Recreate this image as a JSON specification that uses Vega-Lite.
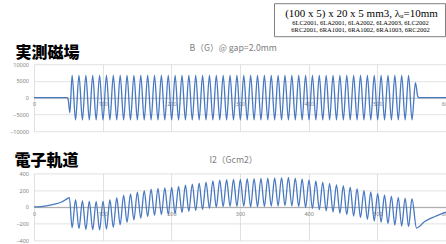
{
  "$schema": "https://vega.github.io/schema/vega-lite/v6.json",
  "padding": {"left": 9, "top": 2.2, "right": 0, "bottom": 0},
  "background": "white",
  "config": {
    "view": {"stroke": null},
    "axis": {"gridColor": "#d9d9d9", "gridWidth": 0.8, "labelFont": "Noto Sans", "labelColor": "#7f7f7f", "labelFontSize": 5.5, "ticks": false}
  },
  "datasets": {
    "field": [
      {"x":0,"b":0},{"x":48.5,"b":0},{"x":50,"b":-800},{"x":52.2,"b":-4500},
      {"x":55.5,"b":6650},{"x":60.5,"b":-6600},{"x":65.5,"b":6650},{"x":70.5,"b":-6600},{"x":75.5,"b":6650},{"x":80.5,"b":-6600},{"x":85.5,"b":6650},{"x":90.5,"b":-6600},{"x":95.5,"b":6650},{"x":100.5,"b":-6600},
      {"x":105.5,"b":6650},{"x":110.5,"b":-6600},{"x":115.5,"b":6650},{"x":120.5,"b":-6600},{"x":125.5,"b":6650},{"x":130.5,"b":-6600},{"x":135.5,"b":6650},{"x":140.5,"b":-6600},{"x":145.5,"b":6650},{"x":150.5,"b":-6600},
      {"x":155.5,"b":6650},{"x":160.5,"b":-6600},{"x":165.5,"b":6650},{"x":170.5,"b":-6600},{"x":175.5,"b":6650},{"x":180.5,"b":-6600},{"x":185.5,"b":6650},{"x":190.5,"b":-6600},{"x":195.5,"b":6650},{"x":200.5,"b":-6600},
      {"x":205.5,"b":6650},{"x":210.5,"b":-6600},{"x":215.5,"b":6650},{"x":220.5,"b":-6600},{"x":225.5,"b":6650},{"x":230.5,"b":-6600},{"x":235.5,"b":6650},{"x":240.5,"b":-6600},{"x":245.5,"b":6650},{"x":250.5,"b":-6600},
      {"x":255.5,"b":6650},{"x":260.5,"b":-6600},{"x":265.5,"b":6650},{"x":270.5,"b":-6600},{"x":275.5,"b":6650},{"x":280.5,"b":-6600},{"x":285.5,"b":6650},{"x":290.5,"b":-6600},{"x":295.5,"b":6650},{"x":300.5,"b":-6600},
      {"x":305.5,"b":6650},{"x":310.5,"b":-6600},{"x":315.5,"b":6650},{"x":320.5,"b":-6600},{"x":325.5,"b":6650},{"x":330.5,"b":-6600},{"x":335.5,"b":6650},{"x":340.5,"b":-6600},{"x":345.5,"b":6650},{"x":350.5,"b":-6600},
      {"x":355.5,"b":6650},{"x":360.5,"b":-6600},{"x":365.5,"b":6650},{"x":370.5,"b":-6600},{"x":375.5,"b":6650},{"x":380.5,"b":-6600},{"x":385.5,"b":6650},{"x":390.5,"b":-6600},{"x":395.5,"b":6650},{"x":400.5,"b":-6600},
      {"x":405.5,"b":6650},{"x":410.5,"b":-6600},{"x":415.5,"b":6650},{"x":420.5,"b":-6600},{"x":425.5,"b":6650},{"x":430.5,"b":-6600},{"x":435.5,"b":6650},{"x":440.5,"b":-6600},{"x":445.5,"b":6650},{"x":450.5,"b":-6600},
      {"x":455.5,"b":6650},{"x":460.5,"b":-6600},{"x":465.5,"b":6650},{"x":470.5,"b":-6600},{"x":475.5,"b":6650},{"x":480.5,"b":-6600},{"x":485.5,"b":6650},{"x":490.5,"b":-6600},{"x":495.5,"b":6650},{"x":500.5,"b":-6600},
      {"x":505.5,"b":6650},{"x":510.5,"b":-6600},{"x":515.5,"b":6650},{"x":520.5,"b":-6600},{"x":525.5,"b":6650},{"x":530.5,"b":-6600},{"x":535.5,"b":6650},{"x":540.5,"b":-6600},{"x":545.5,"b":6650},{"x":550.5,"b":-6600},
      {"x":555.5,"b":4500},{"x":559,"b":300},{"x":561,"b":0},{"x":600,"b":0}
    ],
    "i2": [
      {"x":0,"v":0},{"x":10,"v":4},{"x":20,"v":14},{"x":30,"v":32},{"x":40,"v":58},{"x":47,"v":90},{"x":51.5,"v":111},
      {"x":55.5,"v":-250},{"x":60.5,"v":85},{"x":65.5,"v":-260},{"x":70.5,"v":75},{"x":75.5,"v":-270},{"x":80.5,"v":68},{"x":85.5,"v":-274},{"x":90.5,"v":65},{"x":95.5,"v":-275},{"x":100.5,"v":70},
      {"x":105.5,"v":-265},{"x":110.5,"v":85},{"x":115.5,"v":-245},{"x":120.5,"v":110},{"x":125.5,"v":-215},{"x":130.5,"v":140},{"x":135.5,"v":-185},{"x":140.5,"v":155},{"x":145.5,"v":-155},{"x":150.5,"v":175},
      {"x":155.5,"v":-135},{"x":160.5,"v":195},{"x":165.5,"v":-115},{"x":170.5,"v":212},{"x":175.5,"v":-102},{"x":180.5,"v":222},{"x":185.5,"v":-94},{"x":190.5,"v":228},{"x":195.5,"v":-90},{"x":200.5,"v":232},
      {"x":205.5,"v":-82},{"x":210.5,"v":245},{"x":215.5,"v":-68},{"x":220.5,"v":260},{"x":225.5,"v":-54},{"x":230.5,"v":272},{"x":235.5,"v":-43},{"x":240.5,"v":282},{"x":245.5,"v":-32},{"x":250.5,"v":295},
      {"x":255.5,"v":-18},{"x":260.5,"v":310},{"x":265.5,"v":-4},{"x":270.5,"v":320},{"x":275.5,"v":3},{"x":280.5,"v":325},{"x":285.5,"v":6},{"x":290.5,"v":327},{"x":295.5,"v":7},{"x":300.5,"v":328},
      {"x":305.5,"v":8},{"x":310.5,"v":337},{"x":315.5,"v":1},{"x":320.5,"v":338},{"x":325.5,"v":2},{"x":330.5,"v":339},{"x":335.5,"v":4},{"x":340.5,"v":342},{"x":345.5,"v":8},{"x":350.5,"v":346},
      {"x":355.5,"v":12},{"x":360.5,"v":350},{"x":365.5,"v":15},{"x":370.5,"v":351},{"x":375.5,"v":12},{"x":380.5,"v":344},{"x":385.5,"v":3},{"x":390.5,"v":333},{"x":395.5,"v":-8},{"x":400.5,"v":323},
      {"x":405.5,"v":-20},{"x":410.5,"v":309},{"x":415.5,"v":-34},{"x":420.5,"v":295},{"x":425.5,"v":-48},{"x":430.5,"v":281},{"x":435.5,"v":-62},{"x":440.5,"v":267},{"x":445.5,"v":-76},{"x":450.5,"v":253},
      {"x":455.5,"v":-92},{"x":460.5,"v":235},{"x":465.5,"v":-110},{"x":470.5,"v":217},{"x":475.5,"v":-128},{"x":480.5,"v":198},{"x":485.5,"v":-148},{"x":490.5,"v":178},{"x":495.5,"v":-168},{"x":500.5,"v":160},
      {"x":505.5,"v":-184},{"x":510.5,"v":144},{"x":515.5,"v":-200},{"x":520.5,"v":128},{"x":525.5,"v":-216},{"x":530.5,"v":114},{"x":535.5,"v":-228},{"x":540.5,"v":104},{"x":545.5,"v":-236},{"x":550.5,"v":98},
      {"x":557,"v":-252},{"x":569,"v":-175},{"x":584,"v":-115},{"x":600,"v":-63}
    ]
  },
  "spacing": 6,
  "vconcat": [
    {
      "bounds": "flush",
      "spacing": 0,
      "hconcat": [
        {"width": 240, "height": 33, "data": {"values": []}, "mark": "point"},
        {
          "width": 171, "height": 33,
          "view": {"stroke": "#7f7f7f", "strokeWidth": 1},
          "layer": [
            {"data": {"values": [{"t": "(100 x 5) x 20 x 5 mm3, λᵤ=10mm"}]},
             "mark": {"type": "text", "font": "Liberation Serif", "fontSize": 11, "baseline": "middle", "dy": -5.5, "dx": 2, "color": "#000000"},
             "encoding": {"text": {"field": "t"}}},
            {"data": {"values": [{"t": "6LC2001, 6LA2001, 6LA2002, 6LA2003, 6LC2002"}]},
             "mark": {"type": "text", "font": "Liberation Serif", "fontSize": 6.5, "baseline": "middle", "dy": 3.8, "dx": 1, "color": "#000000"},
             "encoding": {"text": {"field": "t"}}},
            {"data": {"values": [{"t": "6RC2001, 6RA1001, 6RA1002, 6RA1003, 6RC2002"}]},
             "mark": {"type": "text", "font": "Liberation Serif", "fontSize": 6.5, "baseline": "middle", "dy": 10, "dx": 1, "color": "#000000"},
             "encoding": {"text": {"field": "t"}}}
          ]
        }
      ]
    },
    {
      "bounds": "flush",
      "spacing": 42.2,
      "vconcat": [
        {
          "width": 412, "height": 67,
          "data": {"name": "field"},
          "mark": {"type": "line", "interpolate": "monotone", "color": "#4878c0", "strokeWidth": 1.3},
          "encoding": {
            "x": {"field": "x", "type": "quantitative", "scale": {"domain": [0, 600], "nice": false, "zero": false},
              "axis": {"values": [0,100,200,300,400,500,600], "format": "d", "offset": -33.5, "grid": true, "domain": true, "domainColor": "#bfbfbf", "labelPadding": 4, "labelFlush": false, "labelOverlap": false,
                "title": "B（G）@ gap=2.0mm", "titleX": 198.7, "titleY": -50.1, "titleAlign": "center", "titleBaseline": "middle", "titleFontSize": 8.7, "titleFontWeight": "normal", "titleColor": "#808080", "titleFont": "Noto Sans CJK JP"}},
            "y": {"field": "b", "type": "quantitative", "scale": {"domain": [-10000, 10000], "nice": false},
              "axis": {"values": [-10000,-5000,0,5000,10000], "format": "d", "grid": true, "domain": false, "labelPadding": 5.5,
                "title": "実測磁場", "titleAngle": 0, "titleX": -19, "titleY": -12, "titleAlign": "left", "titleBaseline": "middle", "titleFontSize": 16, "titleFontWeight": 900, "titleColor": "#000000", "titleFont": "Noto Sans CJK JP"}}
          }
        },
        {
          "width": 412, "height": 67,
          "data": {"name": "i2"},
          "mark": {"type": "line", "interpolate": "monotone", "color": "#4878c0", "strokeWidth": 1.3},
          "encoding": {
            "x": {"field": "x", "type": "quantitative", "scale": {"domain": [0, 600], "nice": false, "zero": false},
              "axis": {"values": [0,100,200,300,400,500,600], "format": "d", "offset": -33.5, "grid": true, "domain": true, "domainColor": "#a6a6a6", "labelPadding": 5, "labelFlush": false, "labelOverlap": false,
                "title": "I2（Gcm2）", "titleX": 199, "titleY": -47.7, "titleAlign": "center", "titleBaseline": "middle", "titleFontSize": 8.7, "titleFontWeight": "normal", "titleColor": "#808080", "titleFont": "Noto Sans CJK JP"}},
            "y": {"field": "v", "type": "quantitative", "scale": {"domain": [-400, 400], "nice": false},
              "axis": {"values": [-400,-200,0,200,400], "format": "d", "grid": true, "domain": false, "labelPadding": 5.5,
                "title": "電子軌道", "titleAngle": 0, "titleX": -20, "titleY": -13, "titleAlign": "left", "titleBaseline": "middle", "titleFontSize": 16, "titleFontWeight": 900, "titleColor": "#000000", "titleFont": "Noto Sans CJK JP"}}
          }
        }
      ]
    }
  ]
}
